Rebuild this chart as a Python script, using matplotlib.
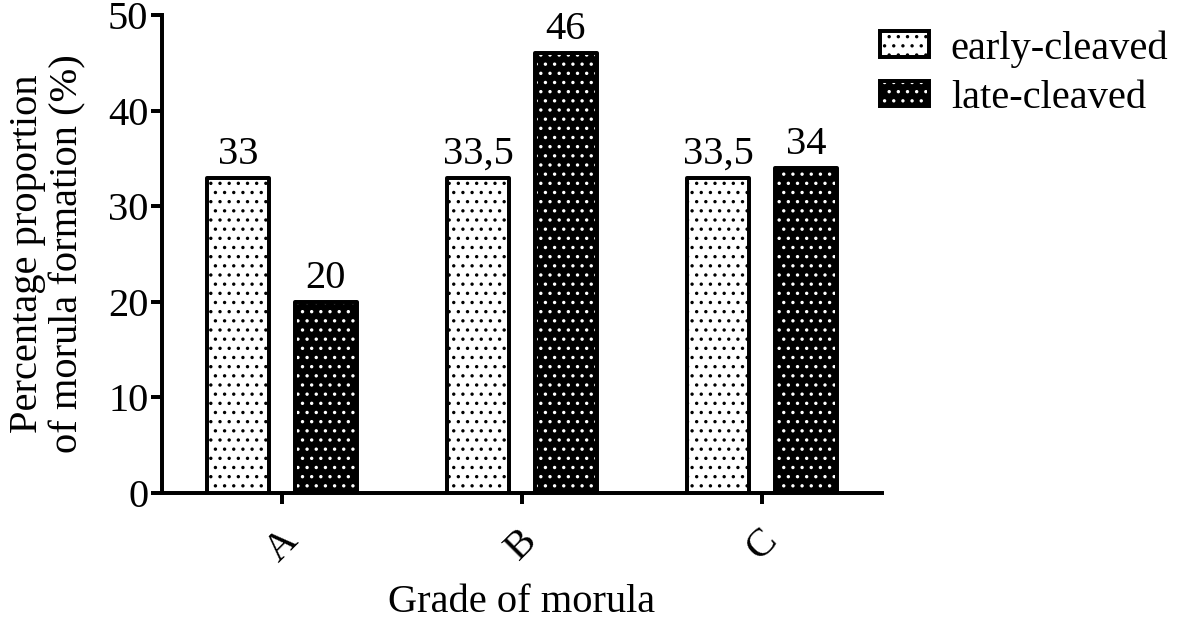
import numpy as np
import matplotlib
matplotlib.use('Agg')
import matplotlib.pyplot as plt
from matplotlib.patches import Patch

grades = ['A', 'B', 'C']
early = [33, 33, 33]
late = [20, 46, 34]
early_labels = ['33', '33,5', '33,5']
late_labels = ['20', '46', '34']
series_names = ['early-cleaved', 'late-cleaved']

plt.rcParams['font.family'] = ['Liberation Serif', 'DejaVu Serif']
plt.rcParams['hatch.linewidth'] = 1.0

dpi = 110
fig = plt.figure(figsize=(1181 / dpi, 620 / dpi), dpi=dpi)
ax = fig.add_axes([162 / 1181, 1 - 493 / 620, 720 / 1181, 478 / 620])

x = np.arange(len(grades))
w = 0.26
off = 0.183
lw = 2.6
fs = 26.5

ax.bar(x - off, early, w, color='white', edgecolor='black', hatch='..',
       linewidth=lw, joinstyle='round', zorder=3)
# black bars with white dots: fill with white hatch, then black outline on top
ax.bar(x + off, late, w, color='black', edgecolor='white', hatch='..',
       linewidth=0, zorder=3)
ax.bar(x + off, late, w, fill=False, edgecolor='black',
       linewidth=lw, joinstyle='round', zorder=4)

for xi, v, t in zip(x - off, early, early_labels):
    ax.text(xi, v + 0.5, t, ha='center', va='bottom', fontsize=fs)
for xi, v, t in zip(x + off, late, late_labels):
    ax.text(xi, v + 0.5, t, ha='center', va='bottom', fontsize=fs)

ax.set_xlim(-0.5, 2.5)
ax.set_ylim(0, 50)
ax.set_yticks([0, 10, 20, 30, 40, 50])
ax.set_xticks(x)
ax.set_xticklabels(grades, rotation=45, ha='center', va='top')
ax.tick_params(axis='both', labelsize=fs, width=lw, length=7, direction='out')
ax.tick_params(axis='x', pad=12)
ax.tick_params(axis='y', pad=2)

for s in ['top', 'right']:
    ax.spines[s].set_visible(False)
for s in ['left', 'bottom']:
    ax.spines[s].set_linewidth(lw)

ax.set_ylabel('Percentage proportion\nof morula formation (%)', fontsize=fs,
              multialignment='center', labelpad=14, linespacing=1.12)
ax.set_xlabel('Grade of morula', fontsize=fs, labelpad=10)

h_early = Patch(facecolor='white', edgecolor='black', hatch='..', linewidth=lw)
h_late_fill = Patch(facecolor='black', edgecolor='white', hatch='..', linewidth=0)
h_late_edge = Patch(fill=False, edgecolor='black', linewidth=lw)
fig.legend([h_early, (h_late_fill, h_late_edge)], series_names,
           loc='upper left', bbox_to_anchor=(880 / 1181, 1 - 30 / 620),
           frameon=False, fontsize=fs, borderaxespad=0, borderpad=0,
           handlelength=1.2, handleheight=0.6, handletextpad=0.55,
           labelspacing=0.3)

fig.savefig('out.png', dpi=dpi)
